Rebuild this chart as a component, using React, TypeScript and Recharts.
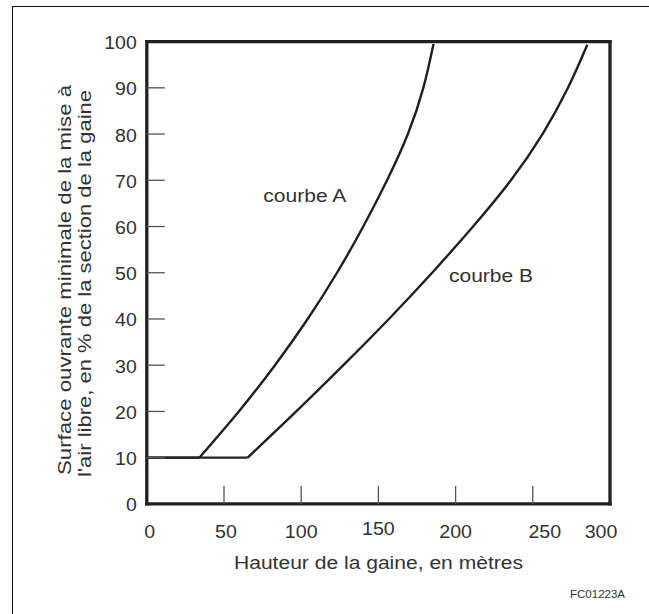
import React from 'react';
import { LineChart, Line, XAxis, YAxis } from 'recharts';

// ---- data ----
const heightTicks = [0, 50, 100, 150, 200, 250, 300];
const openingTicks = [0, 10, 20, 30, 40, 50, 60, 70, 80, 90, 100];
const baseOpening = 10;
const curveAHeights = [34, 59.6, 83, 104.2, 123.2, 140.2, 155.6, 169.1, 179.1, 185.7];
const curveAOpenings = [10, 20, 30, 40, 50, 60, 70, 80, 90, 99.5];
const curveBHeights = [65.3, 96.8, 127.3, 156.8, 184.8, 211.3, 235.8, 256.3, 272.8, 285.3];
const curveBOpenings = [10, 20, 30, 40, 50, 60, 70, 80, 90, 99.3];

const curveA = curveAHeights.map((x, i) => ({ x, y: curveAOpenings[i] }));
const curveB = curveBHeights.map((x, i) => ({ x, y: curveBOpenings[i] }));
const flatA = [{ x: 0, y: baseOpening }, { x: curveAHeights[0], y: baseOpening }];
const flatB = [{ x: 0, y: baseOpening }, { x: curveBHeights[0], y: baseOpening }];

// ---- styles ----
const INK = '#231f20';
const TEXT = '#333';
const TICK = '#555';
const TICK_LEN = 18;
const FONT = '"Liberation Sans", Arial, Helvetica, sans-serif';
const xMin = heightTicks[0];
const xMax = heightTicks[heightTicks.length - 1];
const yMin = openingTicks[0];
const yMax = openingTicks[openingTicks.length - 1];
const xLabelNudge: Record<number, [number, number]> = {
  0: [3, 0], 50: [2, 0], 150: [0, -3], 250: [12, 0], 300: [-9, 0],
};

const BottomTick = (props: any) => {
  const { x, y, payload } = props;
  const v = payload.value;
  const [dx, dy] = xLabelNudge[v] || [0, 0];
  const s = String(v);
  return (
    <g>
      {v > xMin && v < xMax && (
        <line x1={x} y1={y} x2={x} y2={y - TICK_LEN} stroke={TICK} strokeWidth={1.3} />
      )}
      <text x={x + dx} y={y + 34 + dy} textAnchor="middle" fontSize={17.5} fill={TEXT}
        fontFamily={FONT} textLength={s.length * 10.9} lengthAdjust="spacingAndGlyphs">{s}</text>
    </g>
  );
};

const TopTick = (props: any) => {
  const { x, y, payload } = props;
  const v = payload.value;
  if (!(v > xMin && v < xMax)) return <g />;
  return <line x1={x} y1={y} x2={x} y2={y + TICK_LEN} stroke={TICK} strokeWidth={1.3} />;
};

const LeftTick = (props: any) => {
  const { x, y, payload } = props;
  const v = payload.value;
  const s = String(v);
  return (
    <g>
      {v > yMin && v < yMax && (
        <line x1={x} y1={y} x2={x + TICK_LEN} y2={y} stroke={TICK} strokeWidth={1.3} />
      )}
      <text x={x - 10} y={y + 7.5} textAnchor="end" fontSize={17.5} fill={TEXT}
        fontFamily={FONT} textLength={s.length * 10.85} lengthAdjust="spacingAndGlyphs">{s}</text>
    </g>
  );
};

const RightTick = (props: any) => {
  const { x, y, payload } = props;
  const v = payload.value;
  if (!(v > yMin && v < yMax)) return <g />;
  return <line x1={x} y1={y} x2={x - TICK_LEN} y2={y} stroke={TICK} strokeWidth={1.3} />;
};

const axisLine = { stroke: INK, strokeWidth: 3.3, strokeLinecap: 'square' as const };

export default function App() {
  return (
    <div style={{ position: 'absolute', left: 0, top: 0, width: 649, height: 614, background: '#fff' }}>
      <div style={{
        position: 'absolute', left: 11.5, top: 6, width: 640, height: 610,
        borderTop: '1.7px solid #111', borderLeft: '1.7px solid #111',
      }} />
      <div style={{ position: 'absolute', left: 0, top: 0 }}>
        <LineChart width={649} height={614} margin={{ top: 11.6, right: 9, bottom: 50.1, left: 46.8 }}>
          <XAxis dataKey="x" type="number" domain={[xMin, xMax]} ticks={heightTicks} interval={0}
            tickSize={0} tickMargin={0} tickLine={false} axisLine={axisLine} tick={<BottomTick />} height={60} />
          <XAxis xAxisId="top" orientation="top" type="number" domain={[xMin, xMax]} ticks={heightTicks}
            interval={0} tickSize={0} tickMargin={0} tickLine={false} axisLine={axisLine} tick={<TopTick />} height={30} />
          <YAxis type="number" domain={[yMin, yMax]} ticks={openingTicks} interval={0}
            tickSize={0} tickMargin={0} tickLine={false} axisLine={axisLine} tick={<LeftTick />} width={100} />
          <YAxis yAxisId="right" orientation="right" type="number" domain={[yMin, yMax]} ticks={openingTicks}
            interval={0} tickSize={0} tickMargin={0} tickLine={false} axisLine={axisLine} tick={<RightTick />} width={30} />
          <Line data={flatA} dataKey="y" type="linear" stroke={INK} strokeWidth={2.4} dot={false} activeDot={false} isAnimationActive={false} />
          <Line data={flatB} dataKey="y" type="linear" stroke={INK} strokeWidth={2.4} dot={false} activeDot={false} isAnimationActive={false} />
          <Line data={curveA} dataKey="y" type="natural" stroke={INK} strokeWidth={2.4} dot={false} activeDot={false} isAnimationActive={false} />
          <Line data={curveB} dataKey="y" type="natural" stroke={INK} strokeWidth={2.4} dot={false} activeDot={false} isAnimationActive={false} />
        </LineChart>
      </div>
      <svg width={649} height={614} style={{ position: 'absolute', left: 0, top: 0, pointerEvents: 'none' }}>
        <g fontFamily={FONT} fill={TEXT}>
          <text x={263.3} y={202.3} fontSize={18} textLength={83} lengthAdjust="spacingAndGlyphs">courbe A</text>
          <text x={449} y={281.7} fontSize={18} textLength={84} lengthAdjust="spacingAndGlyphs">courbe B</text>
          <text x={378.5} y={568.5} fontSize={17.5} textAnchor="middle" textLength={289} lengthAdjust="spacingAndGlyphs">Hauteur de la gaine, en mètres</text>
          <text x={625} y={598} fontSize={11} textAnchor="end" textLength={55} lengthAdjust="spacingAndGlyphs">FC01223A</text>
          <text transform="translate(71,280) rotate(-90)" fontSize={17.5} textAnchor="middle" textLength={390} lengthAdjust="spacingAndGlyphs">Surface ouvrante minimale de la mise à</text>
          <text transform="translate(91,283.5) rotate(-90)" fontSize={17.5} textAnchor="middle" textLength={387} lengthAdjust="spacingAndGlyphs">l'air libre, en % de la section de la gaine</text>
        </g>
      </svg>
    </div>
  );
}
